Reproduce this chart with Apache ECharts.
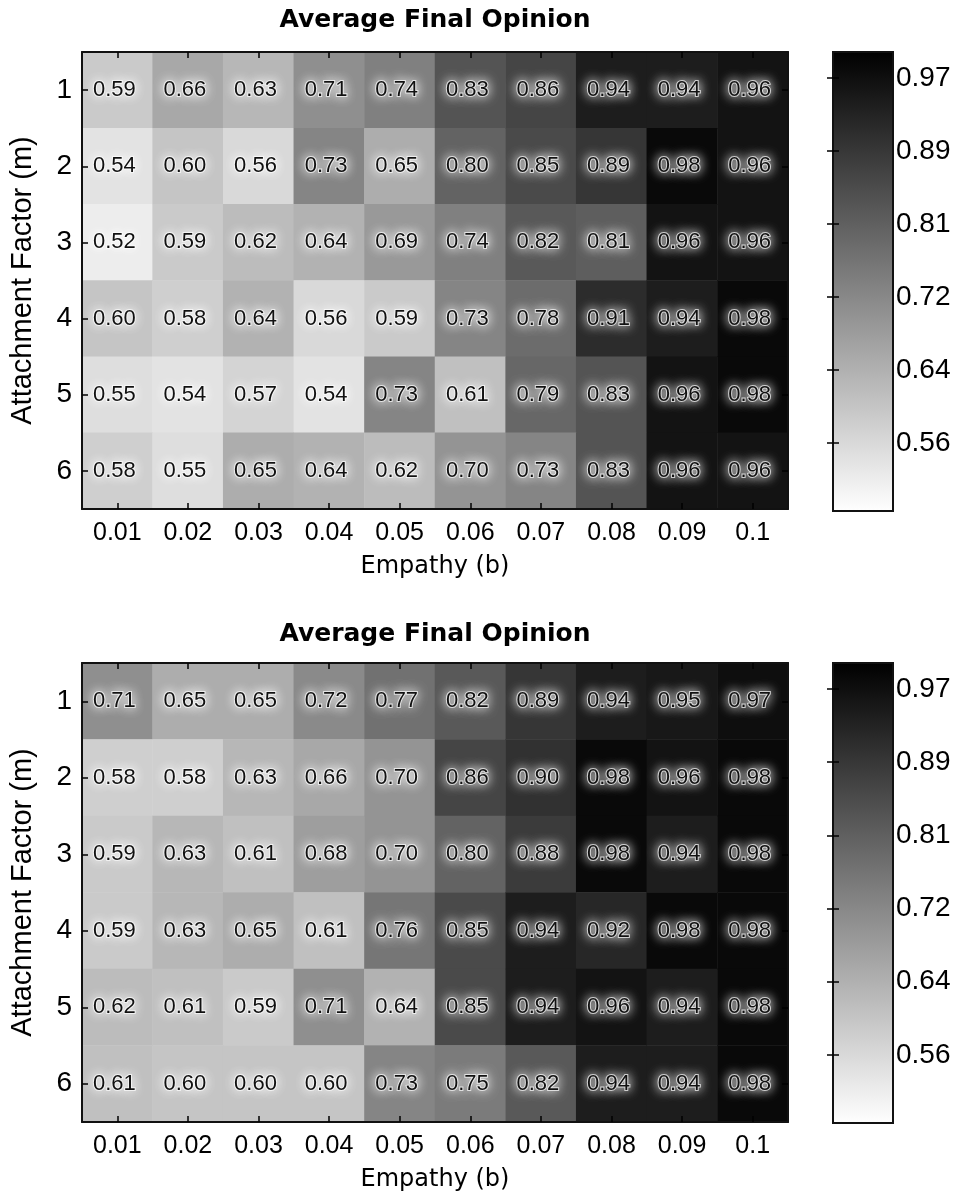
<!DOCTYPE html>
<html>
<head>
<meta charset="utf-8">
<script src="https://cdn.jsdelivr.net/npm/echarts@6/dist/echarts.min.js"></script>
<style>
html,body{margin:0;padding:0;background:#fff;}
#chart{width:956px;height:1202px;}
</style>
</head>
<body>
<div id="chart"></div>
<script>
// ---- data ----
const titleText = 'Average Final Opinion';
const xName = 'Empathy (b)';
const yName = 'Attachment Factor (m)';
const empathy = ['0.01','0.02','0.03','0.04','0.05','0.06','0.07','0.08','0.09','0.1'];
const attachment = ['1','2','3','4','5','6'];
const topValues = [
  [0.59,0.66,0.63,0.71,0.74,0.83,0.86,0.94,0.94,0.96],
  [0.54,0.60,0.56,0.73,0.65,0.80,0.85,0.89,0.98,0.96],
  [0.52,0.59,0.62,0.64,0.69,0.74,0.82,0.81,0.96,0.96],
  [0.60,0.58,0.64,0.56,0.59,0.73,0.78,0.91,0.94,0.98],
  [0.55,0.54,0.57,0.54,0.73,0.61,0.79,0.83,0.96,0.98],
  [0.58,0.55,0.65,0.64,0.62,0.70,0.73,0.83,0.96,0.96]
];
const bottomValues = [
  [0.71,0.65,0.65,0.72,0.77,0.82,0.89,0.94,0.95,0.97],
  [0.58,0.58,0.63,0.66,0.70,0.86,0.90,0.98,0.96,0.98],
  [0.59,0.63,0.61,0.68,0.70,0.80,0.88,0.98,0.94,0.98],
  [0.59,0.63,0.65,0.61,0.76,0.85,0.94,0.92,0.98,0.98],
  [0.62,0.61,0.59,0.71,0.64,0.85,0.94,0.96,0.94,0.98],
  [0.61,0.60,0.60,0.60,0.73,0.75,0.82,0.94,0.94,0.98]
];
const colorMin = 0.4836;
const colorMax = 0.9992;
const colorbarTicks = [0.97, 0.888, 0.806, 0.724, 0.642, 0.56];

// ---- build ----
function toCells(values){
  const out = [];
  values.forEach((row, r) => row.forEach((v, c) => out.push([c, r, v])));
  return out;
}

const LINE = '#111111';
const plots = [
  {top: 52, height: 457, cbTop: 52, cbHeight: 459, titleTop: 3},
  {top: 663, height: 459, cbTop: 663, cbHeight: 460, titleTop: 617}
];
const PLOT_LEFT = 81, PLOT_W = 707, CB_LEFT = 833, CB_W = 60;

const grids = [], xAxes = [], yAxes = [], series = [], visualMaps = [], titles = [];
plots.forEach((p, i) => {
  titles.push({
    text: titleText, left: 430, top: p.titleTop, textAlign: 'center',
    textStyle: {fontFamily: 'DejaVu Sans', fontWeight: 'bold', fontSize: 25, color: '#000'}
  });
  // main grid
  const gi = grids.length;
  grids.push({left: PLOT_LEFT, top: p.top, width: PLOT_W, height: p.height, containLabel: false});
  const tick = {show: true, inside: true, alignWithLabel: true, length: 6, lineStyle: {color: '#000', width: 1.5}};
  const xi = xAxes.length;
  xAxes.push({
    type: 'category', gridIndex: gi, data: empathy, position: 'bottom', z: 10,
    axisLine: {lineStyle: {color: LINE, width: 2}}, axisTick: tick,
    axisLabel: {fontFamily: 'Liberation Sans', fontSize: 25, color: '#000', margin: 12},
    name: xName, nameLocation: 'middle', nameGap: 46,
    nameTextStyle: {fontFamily: 'DejaVu Sans', fontSize: 24, color: '#000'}
  });
  xAxes.push({
    type: 'category', gridIndex: gi, data: empathy, position: 'top', z: 10,
    axisLine: {lineStyle: {color: LINE, width: 2}}, axisTick: tick, axisLabel: {show: false}
  });
  const yi = yAxes.length;
  yAxes.push({
    type: 'category', gridIndex: gi, data: attachment, inverse: true, position: 'left', z: 10,
    axisLine: {lineStyle: {color: LINE, width: 2}}, axisTick: tick,
    axisLabel: {fontFamily: 'Liberation Sans', fontSize: 28, color: '#000', margin: 10},
    name: yName, nameLocation: 'middle', nameGap: 45, nameRotate: 90,
    nameTextStyle: {fontFamily: 'Liberation Sans', fontSize: 29, color: '#000'}
  });
  yAxes.push({
    type: 'category', gridIndex: gi, data: attachment, inverse: true, position: 'right', z: 10,
    axisLine: {lineStyle: {color: LINE, width: 2}}, axisTick: tick, axisLabel: {show: false}
  });
  const si = series.length;
  series.push({
    type: 'heatmap', xAxisIndex: xi, yAxisIndex: yi,
    data: toCells(i === 0 ? topValues : bottomValues),
    label: {
      show: true, formatter: (d) => d.value[2].toFixed(2), offset: [-3, 0],
      fontFamily: 'Liberation Sans', fontSize: 22, color: '#111',
      textBorderColor: 'rgba(255,255,255,0.7)', textBorderWidth: 2,
      textShadowColor: '#ffffff', textShadowBlur: 11
    },
    emphasis: {disabled: true}
  });
  visualMaps.push({
    type: 'continuous', show: false, seriesIndex: si, dimension: 2,
    min: colorMin, max: colorMax, inRange: {color: ['#ffffff', '#000000']}
  });
  // colorbar grid
  const ci = grids.length;
  grids.push({
    left: CB_LEFT, top: p.cbTop, width: CB_W, height: p.cbHeight, show: true,
    borderColor: LINE, borderWidth: 2,
    backgroundColor: new echarts.graphic.LinearGradient(0, 0, 0, 1, [
      {offset: 0, color: '#000000'}, {offset: 1, color: '#ffffff'}
    ])
  });
  xAxes.push({type: 'value', gridIndex: ci, show: false, min: 0, max: 1});
  const cbTick = {show: true, inside: true, length: 6, customValues: colorbarTicks, lineStyle: {color: '#000', width: 1.5}};
  yAxes.push({
    type: 'value', gridIndex: ci, position: 'right', min: colorMin, max: colorMax, z: 10,
    splitLine: {show: false}, axisLine: {show: false}, axisTick: cbTick,
    axisLabel: {customValues: colorbarTicks, formatter: (v) => v.toFixed(2),
      fontFamily: 'Liberation Sans', fontSize: 28, color: '#000', margin: 3}
  });
  yAxes.push({
    type: 'value', gridIndex: ci, position: 'left', min: colorMin, max: colorMax, z: 10,
    splitLine: {show: false}, axisLine: {show: false}, axisTick: cbTick, axisLabel: {show: false}
  });
});

const chart = echarts.init(document.getElementById('chart'), null, {renderer: 'canvas'});
chart.setOption({
  animation: false,
  backgroundColor: '#ffffff',
  title: titles,
  grid: grids,
  xAxis: xAxes,
  yAxis: yAxes,
  visualMap: visualMaps,
  series: series
});
</script>
</body>
</html>
